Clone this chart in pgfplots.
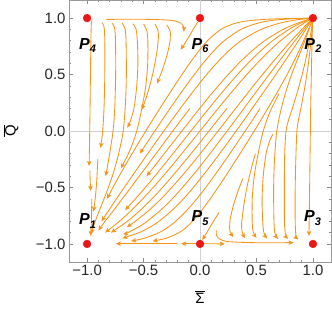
\documentclass[border=0pt]{standalone}
\usepackage{fontspec}
\setmainfont{Liberation Sans}
\usepackage{pgfplots}
\pgfplotsset{compat=1.18}
\usetikzlibrary{arrows.meta}
\definecolor{strm}{RGB}{245,148,25}
\definecolor{ptred}{RGB}{235,22,22}
\newcommand{\Plab}[1]{{\fontsize{16}{16}\selectfont\bfseries\itshape P\kern0.2pt\raisebox{-0.45ex}{\fontsize{11}{11}\selectfont #1}}}
\begin{document}
\begin{tikzpicture}
\begin{axis}[
 scale only axis, width=262bp, height=262bp,
 xmin=-1.16,xmax=1.16,ymin=-1.16,ymax=1.16,
 xtick={-1,-0.5,0,0.5,1}, ytick={-1,-0.5,0,0.5,1},
 xticklabels={−1.0,−0.5,0.0,0.5,1.0}, yticklabels={−1.0,−0.5,0.0,0.5,1.0},
 minor tick num=4,
 tick align=inside,
 major tick length=4bp, minor tick length=2.5bp,
 axis line style={black!40},
 tick style={black!45, line width=0.5bp},
 ticklabel style={font=\fontsize{15}{15}\selectfont, text=black!85},
 xlabel={$\overline{\mbox{Σ}}$}, ylabel={$\overline{\mbox{Q}}$},
 label style={font=\fontsize{15}{15}\selectfont},
 xlabel style={at={(axis description cs:0.5,-0.134)},anchor=center},
 ylabel style={at={(axis description cs:-0.222,0.5)},anchor=center},
 stream/.style={strm, line width=0.85bp, smooth, -{Stealth[length=5bp,width=4.4bp,inset=1bp]}},
]
% zero lines
\addplot[black!18, line width=0.8bp, forget plot] coordinates {(0,-1.2)(0,1.2)};
\addplot[black!18, line width=0.8bp, forget plot] coordinates {(-1.2,0)(1.2,0)};

% hairpins (upper left)
\addplot[stream] coordinates {(-0.955,0.985)(-0.962,0.95)(-0.966,0.8)(-0.970,0.5)(-0.975,0.1)(-0.982,-0.31)};
\addplot[stream] coordinates {(-0.87,0.96)(-0.85,0.925)(-0.843,0.8)(-0.843,0.5)(-0.85,0.2)(-0.862,0.0)(-0.88,-0.15)};
\addplot[stream] coordinates {(-0.78,0.955)(-0.757,0.915)(-0.748,0.8)(-0.747,0.5)(-0.755,0.2)(-0.77,0.0)(-0.80,-0.2)(-0.835,-0.40)};
\addplot[stream] coordinates {(-0.69,0.955)(-0.665,0.91)(-0.655,0.8)(-0.652,0.5)(-0.66,0.25)(-0.68,0.0)(-0.72,-0.2)(-0.77,-0.38)(-0.83,-0.55)(-0.89,-0.7)(-0.935,-0.82)(-0.965,-0.91)};
\addplot[stream] coordinates {(-0.595,0.95)(-0.567,0.905)(-0.555,0.8)(-0.55,0.6)(-0.56,0.4)(-0.585,0.2)(-0.62,0.08)(-0.645,0.03)};
\addplot[stream] coordinates {(-0.50,0.947)(-0.472,0.895)(-0.462,0.8)(-0.463,0.6)(-0.48,0.4)(-0.515,0.2)(-0.56,0.0)(-0.62,-0.17)(-0.70,-0.33)};
\addplot[stream] coordinates {(-0.40,0.947)(-0.375,0.90)(-0.368,0.83)(-0.385,0.68)(-0.42,0.5)(-0.465,0.33)(-0.516,0.186)};
\addplot[stream] coordinates {(-0.295,0.94)(-0.265,0.885)(-0.265,0.80)(-0.29,0.68)(-0.33,0.55)(-0.38,0.42)};
\addplot[stream] coordinates {(-0.83,0.988)(-0.6,0.99)(-0.4,0.987)(-0.24,0.978)(-0.17,0.955)(-0.145,0.92)(-0.145,0.88)};
\addplot[stream] coordinates {(-0.02,0.965)(-0.06,0.90)(-0.11,0.815)(-0.17,0.72)};
% left edge, lower
\addplot[stream] coordinates {(-0.975,-0.35)(-0.972,-0.45)(-0.968,-0.53)};
\addplot[stream] coordinates {(-0.958,-0.6)(-0.962,-0.8)(-0.968,-0.93)};
\addplot[stream] coordinates {(-0.905,-0.25)(-0.915,-0.45)(-0.93,-0.62)(-0.944,-0.714)};

% long lines from P2
\addplot[stream] coordinates {(1,1)(0.85,0.997)(0.6,0.99)(0.42,0.975)(0.30,0.95)(0.185,0.9)(0.067,0.8)(-0.017,0.7)(-0.091,0.6)(-0.16,0.5)(-0.226,0.4)(-0.291,0.3)(-0.355,0.2)(-0.418,0.1)(-0.48,0)(-0.541,-0.1)(-0.601,-0.2)(-0.659,-0.3)(-0.716,-0.4)(-0.771,-0.5)(-0.823,-0.6)};
\addplot[stream] coordinates {(1,1)(0.9,0.99)(0.80,0.975)(0.688,0.95)(0.541,0.9)(0.364,0.8)(0.244,0.7)(0.146,0.6)(0.059,0.5)(-0.022,0.4)(-0.099,0.3)(-0.174,0.2)(-0.248,0.1)(-0.32,0)(-0.392,-0.1)(-0.462,-0.2)(-0.532,-0.3)(-0.602,-0.4)(-0.671,-0.5)(-0.739,-0.6)(-0.806,-0.7)(-0.873,-0.8)};
\addplot[stream] coordinates {(1,1)(0.92,0.975)(0.85,0.95)(0.736,0.9)(0.573,0.8)(0.449,0.7)(0.344,0.6)(0.25,0.5)(0.162,0.4)(0.078,0.3)(-0.003,0.2)(-0.082,0.1)(-0.16,0)(-0.238,-0.1)(-0.316,-0.2)(-0.394,-0.3)(-0.473,-0.4)};
\addplot[stream] coordinates {(1,1)(0.913,0.95)(0.84,0.9)(0.714,0.8)(0.605,0.7)(0.506,0.6)(0.414,0.5)(0.327,0.4)(0.243,0.3)(0.161,0.2)(0.08,0.1)(0,0)(-0.08,-0.1)(-0.161,-0.2)(-0.243,-0.3)(-0.327,-0.4)(-0.414,-0.5)(-0.506,-0.6)(-0.605,-0.7)(-0.714,-0.8)(-0.84,-0.9)};
\addplot[stream] coordinates {(1,1)(0.95,0.95)(0.902,0.9)(0.809,0.8)(0.721,0.7)(0.636,0.6)(0.554,0.5)(0.473,0.4)(0.394,0.3)(0.316,0.2)(0.238,0.1)(0.16,0)(0.082,-0.1)(0.003,-0.2)(-0.078,-0.3)(-0.162,-0.4)(-0.25,-0.5)(-0.344,-0.6)(-0.449,-0.7)(-0.573,-0.8)(-0.648,-0.85)};
\addplot[stream] coordinates {(1,1)(0.97,0.95)(0.937,0.9)(0.873,0.8)(0.806,0.7)(0.739,0.6)(0.671,0.5)(0.602,0.4)(0.532,0.3)(0.462,0.2)(0.392,0.1)(0.32,0)(0.248,-0.1)(0.174,-0.2)(0.099,-0.3)(0.022,-0.4)(-0.059,-0.5)(-0.146,-0.6)(-0.244,-0.7)(-0.364,-0.8)(-0.441,-0.85)(-0.541,-0.9)(-0.688,-0.95)};
\addplot[stream] coordinates {(1,1)(0.985,0.95)(0.96,0.9)(0.918,0.8)(0.872,0.7)(0.823,0.6)(0.771,0.5)(0.716,0.4)(0.659,0.3)(0.601,0.2)(0.541,0.1)(0.48,0)(0.418,-0.1)(0.355,-0.2)(0.291,-0.3)(0.226,-0.4)(0.16,-0.5)(0.091,-0.6)(0.017,-0.7)(-0.067,-0.8)(-0.118,-0.85)(-0.185,-0.9)(-0.30,-0.95)(-0.42,-0.975)};
\addplot[stream] coordinates {(1,1)(0.75,0.99)(0.61,0.975)(0.494,0.95)(0.363,0.9)(0.215,0.8)(0.1135,0.7)(0.0275,0.6)(-0.05,0.5)(-0.124,0.4)(-0.195,0.3)(-0.265,0.2)(-0.333,0.1)(-0.40,0)(-0.467,-0.1)(-0.532,-0.2)};
\addplot[stream] coordinates {(1,1)(0.88,0.95)(0.788,0.9)(0.643,0.8)(0.527,0.7)(0.425,0.6)(0.332,0.5)(0.245,0.4)(0.16,0.3)(0.079,0.2)(-0.001,0.1)(-0.08,0)(-0.159,-0.1)(-0.239,-0.2)(-0.319,-0.3)(-0.40,-0.4)(-0.484,-0.5)(-0.571,-0.6)(-0.663,-0.7)};
\addplot[stream] coordinates {(1,1)(0.92,0.9)(0.841,0.8)(0.7635,0.7)(0.6875,0.6)(0.6125,0.5)(0.5375,0.4)(0.463,0.3)(0.389,0.2)(0.315,0.1)(0.24,0)(0.165,-0.1)(0.089,-0.2)(0.011,-0.3)(-0.07,-0.4)(-0.155,-0.5)(-0.245,-0.6)(-0.347,-0.7)(-0.469,-0.8)(-0.545,-0.85)(-0.639,-0.9)(-0.68,-0.915)};
% shorter middle lines
\addplot[stream] coordinates {(-0.089,0.2)(-0.165,0.1)(-0.24,0)(-0.315,-0.1)(-0.389,-0.2)(-0.463,-0.3)(-0.538,-0.4)(-0.612,-0.5)(-0.688,-0.6)(-0.763,-0.7)(-0.841,-0.8)(-0.90,-0.88)};
\addplot[stream] coordinates {(0.239,0.2)(0.159,0.1)(0.08,0)(0.001,-0.1)(-0.079,-0.2)(-0.161,-0.3)(-0.245,-0.4)(-0.332,-0.5)(-0.425,-0.6)(-0.527,-0.7)(-0.644,-0.8)(-0.788,-0.9)};
\addplot[stream] coordinates {(0.532,0.2)(0.467,0.1)(0.40,0)(0.333,-0.1)(0.265,-0.2)(0.195,-0.3)(0.124,-0.4)(0.051,-0.5)(-0.028,-0.6)(-0.114,-0.7)(-0.216,-0.8)(-0.28,-0.85)(-0.363,-0.9)(-0.494,-0.95)(-0.61,-0.975)};

% right side: from P2 down, hooking to P3
\addplot[stream] coordinates {(1,1)(0.995,0.9)(0.99,0.7)(0.985,0.45)(0.98,0.2)(0.976,-0.1)(0.972,-0.4)(0.968,-0.7)(0.965,-0.93)};
\addplot[stream] coordinates {(1,1)(0.993,0.9)(0.983,0.8)(0.96,0.6)(0.93,0.4)(0.893,0.2)(0.872,0.1)(0.858,0.0)(0.85,-0.2)(0.843,-0.5)(0.843,-0.8)(0.85,-0.925)(0.87,-0.96)};
\addplot[stream] coordinates {(1,1)(0.986,0.9)(0.97,0.8)(0.929,0.6)(0.878,0.4)(0.818,0.2)(0.785,0.1)(0.762,0.0)(0.75,-0.2)(0.747,-0.5)(0.748,-0.8)(0.757,-0.915)(0.78,-0.955)};
\addplot[stream] coordinates {(1,1)(0.975,0.93)(0.94,0.83)(0.89,0.7)(0.83,0.55)(0.77,0.38)(0.72,0.2)(0.68,0.0)(0.66,-0.25)(0.652,-0.5)(0.655,-0.8)(0.665,-0.91)(0.69,-0.955)};
% hooks starting mid-field (lower right)
\addplot[stream] coordinates {(0.645,-0.03)(0.62,-0.08)(0.585,-0.2)(0.56,-0.4)(0.55,-0.6)(0.555,-0.8)(0.567,-0.905)(0.595,-0.95)};
\addplot[stream] coordinates {(0.70,0.33)(0.62,0.17)(0.56,0.0)(0.515,-0.2)(0.48,-0.4)(0.463,-0.6)(0.462,-0.8)(0.472,-0.895)(0.50,-0.947)};
\addplot[stream] coordinates {(0.49,-0.2)(0.455,-0.33)(0.415,-0.5)(0.385,-0.68)(0.368,-0.83)(0.375,-0.90)(0.40,-0.947)};
\addplot[stream] coordinates {(0.38,-0.42)(0.33,-0.55)(0.29,-0.68)(0.265,-0.80)(0.265,-0.885)(0.295,-0.94)};
\addplot[stream] coordinates {(0.145,-0.88)(0.145,-0.92)(0.17,-0.955)(0.24,-0.978)(0.4,-0.987)(0.6,-0.99)(0.83,-0.988)};
\addplot[stream] coordinates {(0.17,-0.72)(0.11,-0.815)(0.06,-0.90)(0.02,-0.965)};
\addplot[stream] coordinates {(0.03,-0.998)(0.12,-0.999)(0.22,-0.999)};
% bottom left
\addplot[stream] coordinates {(-0.02,-0.998)(-0.09,-0.998)(-0.168,-0.998)};
\addplot[stream] coordinates {(-0.20,-0.998)(-0.5,-0.998)(-0.746,-0.998)};

% fixed points
\addplot[only marks, mark=*, mark size=3.9bp, color=ptred] coordinates {(-1,-1)(1,1)(1,-1)(-1,1)(0,-1)(0,1)};

\node at (axis cs:-0.996,-0.80) {\Plab{1}};
\node at (axis cs:1.0,0.757) {\Plab{2}};
\node at (axis cs:0.997,-0.77) {\Plab{3}};
\node at (axis cs:-0.996,0.757) {\Plab{4}};
\node at (axis cs:0.0,-0.77) {\Plab{5}};
\node at (axis cs:0.0,0.757) {\Plab{6}};
\end{axis}
\pgfresetboundingbox
\path (current axis.south west) ++(-69bp,-53bp) rectangle ++(332bp,315bp);
\end{tikzpicture}
\end{document}
